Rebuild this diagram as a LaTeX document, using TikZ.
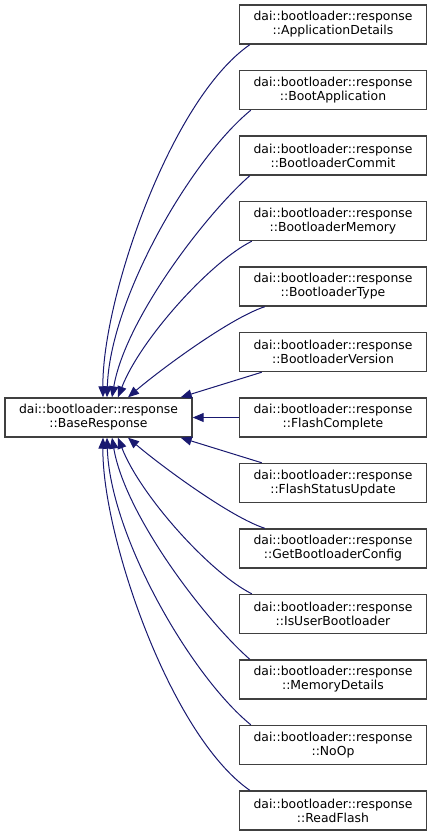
\documentclass[tikz,border=0pt]{standalone}
\usepackage{fontspec}
\setmainfont{DejaVu Sans}
\usetikzlibrary{arrows.meta,calc}
\definecolor{edgeblue}{HTML}{191970}
\definecolor{boxline}{HTML}{404040}
\tikzset{
  cls/.style={draw=boxline, line width=1.4pt, fill=white, minimum width=187pt, minimum height=39pt,
    inner sep=0pt, align=center, font=\fontsize{12.4}{14}\selectfont},
  inh/.style={draw=edgeblue, line width=1pt, -{Triangle[length=11pt,width=9pt]}, fill=none},
}
\begin{document}
\begin{tikzpicture}[x=1pt,y=-1pt]
\useasboundingbox (0,0) rectangle (432,836);
\node[cls] (B) at (98.5,417.5) {dai::bootloader::response\\::BaseResponse};
\node[cls] (R0) at (333,24.5) {dai::bootloader::response\\::ApplicationDetails};
\node[cls] (R1) at (333,90) {dai::bootloader::response\\::BootApplication};
\node[cls] (R2) at (333,155.5) {dai::bootloader::response\\::BootloaderCommit};
\node[cls] (R3) at (333,221) {dai::bootloader::response\\::BootloaderMemory};
\node[cls] (R4) at (333,286.5) {dai::bootloader::response\\::BootloaderType};
\node[cls] (R5) at (333,352) {dai::bootloader::response\\::BootloaderVersion};
\node[cls] (R6) at (333,417.5) {dai::bootloader::response\\::FlashComplete};
\node[cls] (R7) at (333,483) {dai::bootloader::response\\::FlashStatusUpdate};
\node[cls] (R8) at (333,548.5) {dai::bootloader::response\\::GetBootloaderConfig};
\node[cls] (R9) at (333,614) {dai::bootloader::response\\::IsUserBootloader};
\node[cls] (R10) at (333,679.5) {dai::bootloader::response\\::MemoryDetails};
\node[cls] (R11) at (333,745) {dai::bootloader::response\\::NoOp};
\node[cls] (R12) at (333,810.5) {dai::bootloader::response\\::ReadFlash};
% upper curves
\draw[inh] ($(R0.south west)+(11,0)$) .. controls (170,100) and (102,300) .. ($(B.north)+(4.5,0)$);
\draw[inh] ($(R1.south west)+(12,0)$) .. controls (190,160) and (110,300) .. ($(B.north)+(8.5,0)$);
\draw[inh] ($(R2.south west)+(11,0)$) .. controls (205,215) and (125,320) .. ($(B.north)+(13.5,0)$);
\draw[inh] ($(R3.south west)+(13,0)$) .. controls (210,262) and (140,340) .. ($(B.north)+(19.5,0)$);
\draw[inh] ($(R4.south west)+(26,0)$) .. controls (230,318) and (160,370) .. ($(B.north)+(29.5,0)$);
\draw[inh] ($(R5.south west)+(23,0)$) -- ($(B.north east)+(-12,0)$);
\draw[inh] (R6.west) -- (B.east);
% lower curves
\draw[inh] ($(R7.north west)+(23,0)$) -- ($(B.south east)+(-12,0)$);
\draw[inh] ($(R8.north west)+(26,0)$) .. controls (230,517) and (160,465) .. ($(B.south)+(29.5,0)$);
\draw[inh] ($(R9.north west)+(13,0)$) .. controls (210,573) and (140,495) .. ($(B.south)+(19.5,0)$);
\draw[inh] ($(R10.north west)+(11,0)$) .. controls (205,620) and (125,515) .. ($(B.south)+(13.5,0)$);
\draw[inh] ($(R11.north west)+(12,0)$) .. controls (190,675) and (110,535) .. ($(B.south)+(8.5,0)$);
\draw[inh] ($(R12.north west)+(11,0)$) .. controls (170,735) and (102,535) .. ($(B.south)+(4.5,0)$);
\end{tikzpicture}
\end{document}
